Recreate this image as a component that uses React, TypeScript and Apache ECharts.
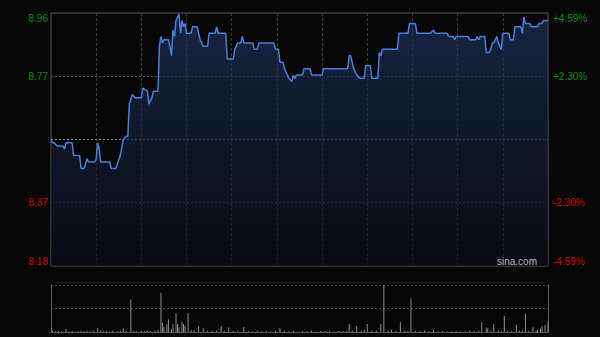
import React, { useEffect, useRef } from "react";
import * as echarts from "echarts";

// ---- data ----
const prevClose = 8.57;
const priceSpan = 0.393; // max distance from previous close shown on the axis
const leftTickLabels = ["8.18", "8.37", "", "8.77", "8.96"];
const rightTickLabels = ["-4.59%", "-2.30%", "", "+2.30%", "+4.59%"];
const sessionMinutes = 330; // 09:30-12:00 + 13:00-16:00
const watermark = "sina.com";

// [minute, price]
const pricePoints: [number, number][] = [
  [0, 8.57], [1, 8.56], [2, 8.56], [4, 8.55], [8, 8.55], [9, 8.54], [10, 8.56], [14, 8.56],
  [15, 8.52], [19, 8.52], [20, 8.48], [22, 8.48], [24, 8.51], [25, 8.5], [29, 8.5], [30, 8.51],
  [31, 8.56], [32, 8.54], [33, 8.5], [39, 8.5], [40, 8.48], [43, 8.48], [46, 8.52], [48, 8.57],
  [50, 8.58], [51, 8.58], [52, 8.68], [54, 8.71], [56, 8.7], [60, 8.7], [61, 8.73], [64, 8.72],
  [65, 8.68], [67, 8.7], [68, 8.72], [71, 8.72], [72, 8.86], [73, 8.89], [74, 8.87], [75, 8.88],
  [78, 8.88], [79, 8.86], [80, 8.83], [81, 8.91], [82, 8.89], [83, 8.94], [85, 8.96], [86, 8.9],
  [87, 8.94], [88, 8.92], [89, 8.93], [90, 8.9], [93, 8.9], [94, 8.92], [97, 8.92], [99, 8.88],
  [101, 8.86], [104, 8.86], [105, 8.9], [109, 8.9], [110, 8.92], [111, 8.9], [116, 8.9], [117, 8.82],
  [121, 8.82], [122, 8.85], [124, 8.87], [126, 8.87], [127, 8.89], [128, 8.87], [134, 8.87], [135, 8.85],
  [137, 8.85], [138, 8.87], [148, 8.87], [149, 8.85], [151, 8.85], [152, 8.81], [154, 8.81], [155, 8.79],
  [157, 8.77], [158, 8.76], [160, 8.75], [161, 8.77], [162, 8.76], [163, 8.77], [167, 8.77], [168, 8.79],
  [172, 8.79], [173, 8.77], [180, 8.77], [181, 8.79], [197, 8.79], [198, 8.83], [199, 8.83], [200, 8.81],
  [201, 8.79], [203, 8.77], [205, 8.76], [208, 8.76], [209, 8.8], [212, 8.8], [213, 8.76], [217, 8.76],
  [218, 8.84], [219, 8.83], [220, 8.85], [230, 8.85], [231, 8.9], [237, 8.9], [238, 8.93], [242, 8.93],
  [243, 8.9], [252, 8.9], [254, 8.91], [255, 8.9], [263, 8.9], [264, 8.89], [267, 8.89], [268, 8.88],
  [269, 8.89], [277, 8.89], [278, 8.88], [282, 8.88], [283, 8.89], [284, 8.88], [285, 8.89], [288, 8.89],
  [289, 8.84], [291, 8.84], [292, 8.85], [293, 8.87], [294, 8.87], [296, 8.89], [297, 8.87], [298, 8.86],
  [299, 8.85], [300, 8.9], [304, 8.9], [305, 8.88], [307, 8.88], [308, 8.92], [312, 8.92], [313, 8.9],
  [314, 8.95], [315, 8.93], [318, 8.93], [319, 8.92], [323, 8.92], [324, 8.93], [326, 8.93], [327, 8.94],
  [330, 8.94],
];

// [minute, volume]
const volumePoints: [number, number][] = [
  [1, 12], [3, 8], [5, 10], [7, 6], [10, 30], [12, 8], [14, 10], [16, 6], [18, 8], [20, 12], [22, 8],
  [24, 10], [26, 6], [28, 12], [31, 40], [33, 15], [35, 8], [37, 10], [39, 6], [41, 12], [44, 8], [46, 14],
  [48, 35], [50, 12], [53, 327], [55, 10], [57, 8], [60, 12], [62, 8], [64, 15], [66, 10], [69, 12],
  [71, 20], [73, 393], [74, 93], [75, 50], [77, 80], [78, 127], [80, 30], [81, 80], [83, 187], [84, 80],
  [85, 50], [87, 100], [88, 80], [89, 60], [91, 187], [93, 20], [95, 15], [98, 60], [101, 35], [104, 12],
  [107, 10], [110, 15], [113, 60], [115, 12], [118, 45], [121, 10], [124, 12], [128, 50], [131, 10],
  [134, 8], [137, 12], [140, 8], [143, 10], [146, 6], [149, 12], [152, 40], [155, 10], [158, 8], [161, 12],
  [164, 6], [167, 10], [170, 8], [173, 12], [176, 6], [179, 10], [182, 8], [185, 12], [188, 6], [191, 10],
  [194, 8], [196, 12], [198, 80], [200, 15], [203, 60], [206, 10], [208, 20], [210, 80], [213, 12],
  [216, 10], [219, 80], [221, 470], [224, 12], [226, 25], [229, 10], [232, 100], [235, 15], [237, 12],
  [239, 337], [242, 10], [245, 8], [248, 12], [251, 6], [254, 20], [257, 8], [260, 10], [263, 6], [266, 8],
  [269, 10], [272, 6], [275, 8], [278, 12], [281, 10], [284, 12], [286, 100], [289, 45], [290, 35],
  [292, 12], [294, 80], [297, 15], [299, 10], [301, 160], [303, 12], [306, 10], [309, 70], [311, 12],
  [313, 15], [315, 180], [317, 10], [320, 47], [322, 12], [323, 20], [325, 35], [326, 60], [328, 70],
  [330, 110],
];
const volumeMax = 470;

const GREEN = "#0a8f0a";
const RED = "#d00000";

export default function App() {
  const ref = useRef<HTMLDivElement>(null);
  useEffect(() => {
    if (!ref.current) return;
    const chart = echarts.init(ref.current, null, { renderer: "svg" });
    const pMin = +(prevClose - priceSpan).toFixed(4);
    const pMax = +(prevClose + priceSpan).toFixed(4);
    const pInt = priceSpan / 2;
    const labelStyle = (i: number) => (i >= 3 ? GREEN : RED);
    chart.setOption({
      animation: false,
      backgroundColor: "#060606",
      grid: [
        { left: 51, top: 13, width: 497, height: 253, show: true, borderColor: "#5a5a5a", borderWidth: 1, backgroundColor: "transparent" },
        { left: 51, top: 285, width: 497, height: 47 },
      ],
      xAxis: [
        {
          gridIndex: 0, type: "value", min: 0, max: sessionMinutes, interval: 30,
          axisLine: { show: false }, axisTick: { show: false }, axisLabel: { show: false },
          splitLine: { show: true, showMinLine: false, showMaxLine: false, lineStyle: { color: "#3c3c3c", type: [3, 2], width: 1 } },
        },
        {
          gridIndex: 1, type: "value", min: 0, max: sessionMinutes, interval: 30,
          axisLine: { show: true, onZero: false, lineStyle: { color: "#5a5a5a", width: 1 } },
          axisTick: { show: false }, axisLabel: { show: false }, splitLine: { show: false },
        },
      ],
      yAxis: [
        {
          gridIndex: 0, type: "value", min: pMin, max: pMax, interval: pInt, position: "left",
          axisLine: { show: false }, axisTick: { show: false },
          axisLabel: {
            show: true, margin: 3, fontSize: 10, fontFamily: "Liberation Sans, Arial, sans-serif",
            color: (_v: number, i: number) => labelStyle(i),
            formatter: (_v: number, i: number) => leftTickLabels[i] ?? "",
            verticalAlignMinLabel: "bottom", verticalAlignMaxLabel: "top",
          },
          splitLine: {
            show: true, showMinLine: false, showMaxLine: false,
            lineStyle: { color: ["#4a4a4a", "#8a8a8a", "#4a4a4a"], type: [2, 2], width: 1 },
          },
        },
        {
          gridIndex: 0, type: "value", min: pMin, max: pMax, interval: pInt, position: "right",
          axisLine: { show: false }, axisTick: { show: false }, splitLine: { show: false },
          axisLabel: {
            show: true, margin: 5, fontSize: 10, fontFamily: "Liberation Sans, Arial, sans-serif",
            color: (_v: number, i: number) => labelStyle(i),
            formatter: (_v: number, i: number) => rightTickLabels[i] ?? "",
            verticalAlignMinLabel: "bottom", verticalAlignMaxLabel: "top",
          },
        },
        {
          gridIndex: 1, type: "value", min: 0, max: volumeMax, interval: volumeMax / 2, position: "left",
          axisLine: { show: true, lineStyle: { color: "#5a5a5a", width: 1 } }, axisTick: { show: false },
          axisLabel: { show: false },
          splitLine: { show: true, showMinLine: false, lineStyle: { color: "#4a4a4a", type: [2, 2], width: 1 } },
        },
        {
          gridIndex: 1, type: "value", min: 0, max: volumeMax, interval: volumeMax / 2, position: "right",
          axisLine: { show: true, lineStyle: { color: "#5a5a5a", width: 1 } }, axisTick: { show: false },
          axisLabel: { show: false }, splitLine: { show: false },
        },
      ],
      series: [
        {
          type: "line", xAxisIndex: 0, yAxisIndex: 0, data: pricePoints, showSymbol: false, symbol: "none",
          lineStyle: { color: "#4a7fd8", width: 1.5 },
          areaStyle: {
            origin: "start",
            color: new echarts.graphic.LinearGradient(0, 0, 0, 1, [
              { offset: 0, color: "rgba(30,52,95,0.95)" },
              { offset: 1, color: "rgba(10,13,22,0.95)" },
            ]),
          },
          z: 3,
        },
        {
          type: "bar", xAxisIndex: 1, yAxisIndex: 2, data: volumePoints, barWidth: 1,
          itemStyle: { color: "#8c8c8c" },
        },
      ],
      graphic: [
        {
          type: "text", right: 63, top: 256,
          style: { text: watermark, fill: "#b4b4b4", fontSize: 10, fontFamily: "Liberation Sans, Arial, sans-serif" },
          z: 10,
        },
      ],
    });
    return () => chart.dispose();
  }, []);
  return <div ref={ref} style={{ position: "absolute", left: 0, top: 0, width: 600, height: 337 }} />;
}
